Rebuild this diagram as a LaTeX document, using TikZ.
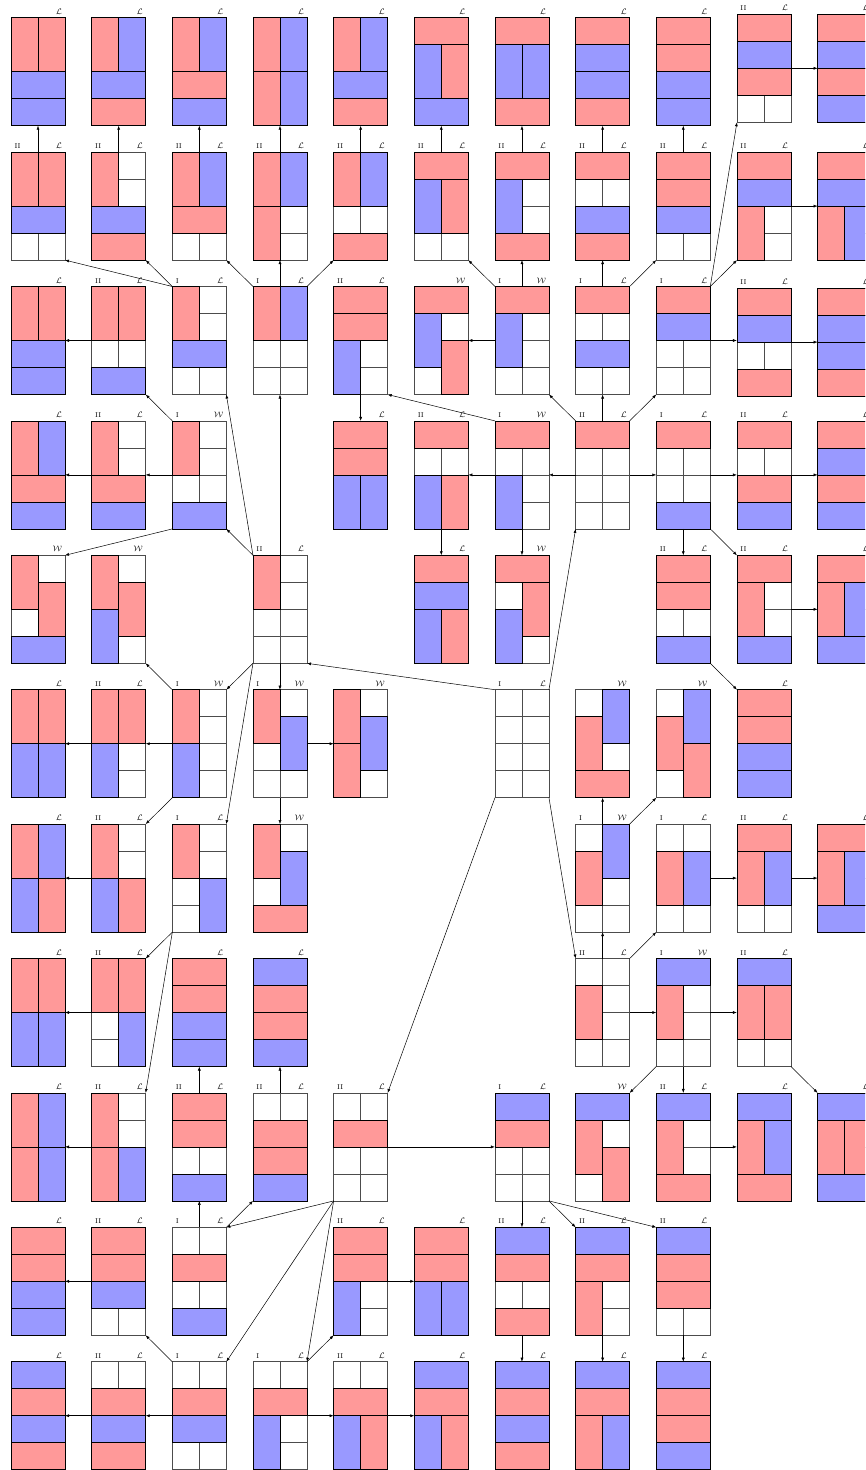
\documentclass[tikz,border=0pt]{standalone}
\usetikzlibrary{arrows.meta}
\colorlet{rd}{red!40}
\colorlet{bl}{blue!40}
\newcommand\calL{{\fontsize{8}{8}\selectfont$\mathcal{L}$}}
\newcommand\calW{{\fontsize{8}{8}\selectfont$\mathcal{W}$}}
\newcommand\hdom[2]{\filldraw[dom,fill=#2] (0,{27*#1}) rectangle (54,{27*#1+27});}
\newcommand\vdom[3]{\filldraw[dom,fill=#3] ({27*#1},{27*#2}) rectangle ({27*#1+27},{27*#2+54});}
\newcommand\bd[6]{%
  \node[board] (b#2-#1) at ({38+80.66*#1},{71.7+134.4*#2+#3}) {};
  \begin{scope}[shift={(b#2-#1.north west)}]
    \draw[cellgrid] (0,0) rectangle (54,108) (27,0) -- (27,108) (0,27) -- (54,27) (0,54) -- (54,54) (0,81) -- (54,81);
    #6
  \end{scope}
  \node[lab, anchor=south west] (b#2-#1-l) at ([xshift=3.5pt,yshift=3.5pt]b#2-#1.north west) {#4};
  \node[lab, anchor=south east] (b#2-#1-r) at ([xshift=-3pt,yshift=3.5pt]b#2-#1.north east) {#5};
}
\tikzset{
  board/.style={rectangle, minimum width=54pt, minimum height=108pt, inner sep=0pt, outer sep=0pt},
  cellgrid/.style={draw=black!70, line width=0.5pt, fill=white},
  dom/.style={draw=black, line width=0.7pt},
  lab/.style={inner sep=0pt, outer sep=0pt, font=\fontsize{7}{7}\selectfont},
  arr/.style={-{Latex[length=4pt,width=3pt]}, line width=0.5pt},
}
\begin{document}
\begin{tikzpicture}[x=1pt,y=-1pt]
\useasboundingbox (0,0) rectangle (865,1470);
\clip (0,0) rectangle (865,1470);
\fill[white] (0,0) rectangle (865,1470);
% row 0
\bd{0}{0}{0}{}{\calL}{\vdom{0}{0}{rd}\vdom{1}{0}{rd}\hdom{2}{bl}\hdom{3}{bl}}
\bd{1}{0}{0}{}{\calL}{\vdom{0}{0}{rd}\vdom{1}{0}{bl}\hdom{2}{bl}\hdom{3}{rd}}
\bd{2}{0}{0}{}{\calL}{\vdom{0}{0}{rd}\vdom{1}{0}{bl}\hdom{2}{rd}\hdom{3}{bl}}
\bd{3}{0}{0}{}{\calL}{\vdom{0}{0}{rd}\vdom{1}{0}{bl}\vdom{0}{2}{rd}\vdom{1}{2}{bl}}
\bd{4}{0}{0}{}{\calL}{\vdom{0}{0}{rd}\vdom{1}{0}{bl}\hdom{2}{bl}\hdom{3}{rd}}
\bd{5}{0}{0}{}{\calL}{\hdom{0}{rd}\vdom{0}{1}{bl}\vdom{1}{1}{rd}\hdom{3}{bl}}
\bd{6}{0}{0}{}{\calL}{\hdom{0}{rd}\vdom{0}{1}{bl}\vdom{1}{1}{bl}\hdom{3}{rd}}
\bd{7}{0}{0}{}{\calL}{\hdom{0}{rd}\hdom{1}{bl}\hdom{2}{bl}\hdom{3}{rd}}
\bd{8}{0}{0}{}{\calL}{\hdom{0}{rd}\hdom{1}{rd}\hdom{2}{bl}\hdom{3}{bl}}
\bd{9}{0}{-3.4}{II}{\calL}{\hdom{0}{rd}\hdom{1}{bl}\hdom{2}{rd}}
\bd{10}{0}{-3.4}{}{\calL}{\hdom{0}{rd}\hdom{1}{bl}\hdom{2}{rd}\hdom{3}{bl}}
% row 1
\bd{0}{1}{0}{II}{\calL}{\vdom{0}{0}{rd}\vdom{1}{0}{rd}\hdom{2}{bl}}
\bd{1}{1}{0}{II}{\calL}{\vdom{0}{0}{rd}\hdom{2}{bl}\hdom{3}{rd}}
\bd{2}{1}{0}{II}{\calL}{\vdom{0}{0}{rd}\vdom{1}{0}{bl}\hdom{2}{rd}}
\bd{3}{1}{0}{II}{\calL}{\vdom{0}{0}{rd}\vdom{1}{0}{bl}\vdom{0}{2}{rd}}
\bd{4}{1}{0}{II}{\calL}{\vdom{0}{0}{rd}\vdom{1}{0}{bl}\hdom{3}{rd}}
\bd{5}{1}{0}{II}{\calL}{\hdom{0}{rd}\vdom{0}{1}{bl}\vdom{1}{1}{rd}}
\bd{6}{1}{0}{II}{\calL}{\hdom{0}{rd}\vdom{0}{1}{bl}\hdom{3}{rd}}
\bd{7}{1}{0}{II}{\calL}{\hdom{0}{rd}\hdom{2}{bl}\hdom{3}{rd}}
\bd{8}{1}{0}{II}{\calL}{\hdom{0}{rd}\hdom{1}{rd}\hdom{2}{bl}}
\bd{9}{1}{0}{II}{\calL}{\hdom{0}{rd}\hdom{1}{bl}\vdom{0}{2}{rd}}
\bd{10}{1}{0}{}{\calL}{\hdom{0}{rd}\hdom{1}{bl}\vdom{0}{2}{rd}\vdom{1}{2}{bl}}
% row 2
\bd{0}{2}{0}{}{\calL}{\vdom{0}{0}{rd}\vdom{1}{0}{rd}\hdom{2}{bl}\hdom{3}{bl}}
\bd{1}{2}{0}{II}{\calL}{\vdom{0}{0}{rd}\vdom{1}{0}{rd}\hdom{3}{bl}}
\bd{2}{2}{0}{I}{\calL}{\vdom{0}{0}{rd}\hdom{2}{bl}}
\bd{3}{2}{0}{I}{\calL}{\vdom{0}{0}{rd}\vdom{1}{0}{bl}}
\bd{4}{2}{0}{II}{\calL}{\hdom{0}{rd}\hdom{1}{rd}\vdom{0}{2}{bl}}
\bd{5}{2}{0}{}{\calW}{\hdom{0}{rd}\vdom{0}{1}{bl}\vdom{1}{2}{rd}}
\bd{6}{2}{0}{I}{\calW}{\hdom{0}{rd}\vdom{0}{1}{bl}}
\bd{7}{2}{0}{I}{\calL}{\hdom{0}{rd}\hdom{2}{bl}}
\bd{8}{2}{0}{I}{\calL}{\hdom{0}{rd}\hdom{1}{bl}}
\bd{9}{2}{1.6}{II}{\calL}{\hdom{0}{rd}\hdom{1}{bl}\hdom{3}{rd}}
\bd{10}{2}{1.6}{}{\calL}{\hdom{0}{rd}\hdom{1}{bl}\hdom{2}{bl}\hdom{3}{rd}}
% row 3
\bd{0}{3}{0}{}{\calL}{\vdom{0}{0}{rd}\vdom{1}{0}{bl}\hdom{2}{rd}\hdom{3}{bl}}
\bd{1}{3}{0}{II}{\calL}{\vdom{0}{0}{rd}\hdom{2}{rd}\hdom{3}{bl}}
\bd{2}{3}{0}{I}{\calW}{\vdom{0}{0}{rd}\hdom{3}{bl}}
\bd{4}{3}{0}{}{\calL}{\hdom{0}{rd}\hdom{1}{rd}\vdom{0}{2}{bl}\vdom{1}{2}{bl}}
\bd{5}{3}{0}{II}{\calL}{\hdom{0}{rd}\vdom{0}{2}{bl}\vdom{1}{2}{rd}}
\bd{6}{3}{0}{I}{\calW}{\hdom{0}{rd}\vdom{0}{2}{bl}}
\bd{7}{3}{0}{II}{\calL}{\hdom{0}{rd}}
\bd{8}{3}{0}{I}{\calL}{\hdom{0}{rd}\hdom{3}{bl}}
\bd{9}{3}{0}{II}{\calL}{\hdom{0}{rd}\hdom{2}{rd}\hdom{3}{bl}}
\bd{10}{3}{0}{}{\calL}{\hdom{0}{rd}\hdom{1}{bl}\hdom{2}{rd}\hdom{3}{bl}}
% row 4
\bd{0}{4}{0}{}{\calW}{\vdom{0}{0}{rd}\vdom{1}{1}{rd}\hdom{3}{bl}}
\bd{1}{4}{0}{}{\calW}{\vdom{0}{0}{rd}\vdom{1}{1}{rd}\vdom{0}{2}{bl}}
\bd{3}{4}{0}{II}{\calL}{\vdom{0}{0}{rd}}
\bd{5}{4}{0}{}{\calL}{\hdom{0}{rd}\hdom{1}{bl}\vdom{0}{2}{bl}\vdom{1}{2}{rd}}
\bd{6}{4}{0}{}{\calW}{\hdom{0}{rd}\vdom{1}{1}{rd}\vdom{0}{2}{bl}}
\bd{8}{4}{0}{II}{\calL}{\hdom{0}{rd}\hdom{1}{rd}\hdom{3}{bl}}
\bd{9}{4}{0}{II}{\calL}{\hdom{0}{rd}\vdom{0}{1}{rd}\hdom{3}{bl}}
\bd{10}{4}{0}{}{\calL}{\hdom{0}{rd}\vdom{0}{1}{rd}\vdom{1}{1}{bl}\hdom{3}{bl}}
% row 5
\bd{0}{5}{0}{}{\calL}{\vdom{0}{0}{rd}\vdom{1}{0}{rd}\vdom{0}{2}{bl}\vdom{1}{2}{bl}}
\bd{1}{5}{0}{II}{\calL}{\vdom{0}{0}{rd}\vdom{1}{0}{rd}\vdom{0}{2}{bl}}
\bd{2}{5}{0}{I}{\calW}{\vdom{0}{0}{rd}\vdom{0}{2}{bl}}
\bd{3}{5}{0}{I}{\calW}{\vdom{0}{0}{rd}\vdom{1}{1}{bl}}
\bd{4}{5}{0}{}{\calW}{\vdom{0}{0}{rd}\vdom{0}{2}{rd}\vdom{1}{1}{bl}}
\bd{6}{5}{0}{I}{\calL}{}
\bd{7}{5}{0}{}{\calW}{\vdom{1}{0}{bl}\vdom{0}{1}{rd}\hdom{3}{rd}}
\bd{8}{5}{0}{}{\calW}{\vdom{1}{0}{bl}\vdom{0}{1}{rd}\vdom{1}{2}{rd}}
\bd{9}{5}{0}{}{\calL}{\hdom{0}{rd}\hdom{1}{rd}\hdom{2}{bl}\hdom{3}{bl}}
% row 6
\bd{0}{6}{0}{}{\calL}{\vdom{0}{0}{rd}\vdom{1}{0}{bl}\vdom{0}{2}{bl}\vdom{1}{2}{rd}}
\bd{1}{6}{0}{II}{\calL}{\vdom{0}{0}{rd}\vdom{0}{2}{bl}\vdom{1}{2}{rd}}
\bd{2}{6}{0}{I}{\calL}{\vdom{0}{0}{rd}\vdom{1}{2}{bl}}
\bd{3}{6}{0}{}{\calW}{\vdom{0}{0}{rd}\vdom{1}{1}{bl}\hdom{3}{rd}}
\bd{7}{6}{0}{I}{\calW}{\vdom{1}{0}{bl}\vdom{0}{1}{rd}}
\bd{8}{6}{0}{I}{\calL}{\vdom{0}{1}{rd}\vdom{1}{1}{bl}}
\bd{9}{6}{0}{II}{\calL}{\hdom{0}{rd}\vdom{0}{1}{rd}\vdom{1}{1}{bl}}
\bd{10}{6}{0}{}{\calL}{\hdom{0}{rd}\vdom{0}{1}{rd}\vdom{1}{1}{bl}\hdom{3}{bl}}
% row 7
\bd{0}{7}{0}{}{\calL}{\vdom{0}{0}{rd}\vdom{1}{0}{rd}\vdom{0}{2}{bl}\vdom{1}{2}{bl}}
\bd{1}{7}{0}{II}{\calL}{\vdom{0}{0}{rd}\vdom{1}{0}{rd}\vdom{1}{2}{bl}}
\bd{2}{7}{0}{}{\calL}{\hdom{0}{rd}\hdom{1}{rd}\hdom{2}{bl}\hdom{3}{bl}}
\bd{3}{7}{0}{}{\calL}{\hdom{0}{bl}\hdom{1}{rd}\hdom{2}{rd}\hdom{3}{bl}}
\bd{7}{7}{0}{II}{\calL}{\vdom{0}{1}{rd}}
\bd{8}{7}{0}{I}{\calW}{\hdom{0}{bl}\vdom{0}{1}{rd}}
\bd{9}{7}{0}{II}{\calL}{\hdom{0}{bl}\vdom{0}{1}{rd}\vdom{1}{1}{rd}}
% row 8
\bd{0}{8}{0}{}{\calL}{\vdom{0}{0}{rd}\vdom{1}{0}{bl}\vdom{0}{2}{rd}\vdom{1}{2}{bl}}
\bd{1}{8}{0}{II}{\calL}{\vdom{0}{0}{rd}\vdom{0}{2}{rd}\vdom{1}{2}{bl}}
\bd{2}{8}{0}{II}{\calL}{\hdom{0}{rd}\hdom{1}{rd}\hdom{3}{bl}}
\bd{3}{8}{0}{II}{\calL}{\hdom{1}{rd}\hdom{2}{rd}\hdom{3}{bl}}
\bd{4}{8}{0}{II}{\calL}{\hdom{1}{rd}}
\bd{6}{8}{0}{I}{\calL}{\hdom{0}{bl}\hdom{1}{rd}}
\bd{7}{8}{0}{}{\calW}{\hdom{0}{bl}\vdom{0}{1}{rd}\vdom{1}{2}{rd}}
\bd{8}{8}{0}{II}{\calL}{\hdom{0}{bl}\vdom{0}{1}{rd}\hdom{3}{rd}}
\bd{9}{8}{0}{}{\calL}{\hdom{0}{bl}\vdom{0}{1}{rd}\vdom{1}{1}{bl}\hdom{3}{rd}}
\bd{10}{8}{0}{}{\calL}{\hdom{0}{bl}\vdom{0}{1}{rd}\vdom{1}{1}{rd}\hdom{3}{bl}}
% row 9
\bd{0}{9}{0}{}{\calL}{\hdom{0}{rd}\hdom{1}{rd}\hdom{2}{bl}\hdom{3}{bl}}
\bd{1}{9}{0}{II}{\calL}{\hdom{0}{rd}\hdom{1}{rd}\hdom{2}{bl}}
\bd{2}{9}{0}{I}{\calL}{\hdom{1}{rd}\hdom{3}{bl}}
\bd{4}{9}{0}{II}{\calL}{\hdom{0}{rd}\hdom{1}{rd}\vdom{0}{2}{bl}}
\bd{5}{9}{0}{}{\calL}{\hdom{0}{rd}\hdom{1}{rd}\vdom{0}{2}{bl}\vdom{1}{2}{bl}}
\bd{6}{9}{0}{II}{\calL}{\hdom{0}{bl}\hdom{1}{rd}\hdom{3}{rd}}
\bd{7}{9}{0}{II}{\calL}{\hdom{0}{bl}\hdom{1}{rd}\vdom{0}{2}{rd}}
\bd{8}{9}{0}{II}{\calL}{\hdom{0}{bl}\hdom{1}{rd}\hdom{2}{rd}}
% row 10
\bd{0}{10}{0}{}{\calL}{\hdom{0}{bl}\hdom{1}{rd}\hdom{2}{bl}\hdom{3}{rd}}
\bd{1}{10}{0}{II}{\calL}{\hdom{1}{rd}\hdom{2}{bl}\hdom{3}{rd}}
\bd{2}{10}{0}{I}{\calL}{\hdom{1}{rd}\hdom{2}{bl}}
\bd{3}{10}{0}{I}{\calL}{\hdom{1}{rd}\vdom{0}{2}{bl}}
\bd{4}{10}{0}{II}{\calL}{\hdom{1}{rd}\vdom{0}{2}{bl}\vdom{1}{2}{rd}}
\bd{5}{10}{0}{}{\calL}{\hdom{0}{bl}\hdom{1}{rd}\vdom{0}{2}{bl}\vdom{1}{2}{rd}}
\bd{6}{10}{0}{}{\calL}{\hdom{0}{bl}\hdom{1}{rd}\hdom{2}{bl}\hdom{3}{rd}}
\bd{7}{10}{0}{}{\calL}{\hdom{0}{bl}\hdom{1}{rd}\vdom{0}{2}{rd}\vdom{1}{2}{bl}}
\bd{8}{10}{0}{}{\calL}{\hdom{0}{bl}\hdom{1}{rd}\hdom{2}{rd}\hdom{3}{bl}}
% vertical arrows row1 -> row0
\foreach \c in {0,...,8} {\draw[arr] (b1-\c.north) -- (b0-\c.south);}
% horizontal arrows
\draw[arr] (b0-9.east) -- (b0-10.west);
\draw[arr] (b1-9.east) -- (b1-10.west);
\draw[arr] (b2-1.west) -- (b2-0.east);
\draw[arr] (b2-6.west) -- (b2-5.east);
\draw[arr] (b2-8.east) -- (b2-8.east -| b2-9.west);
\draw[arr] (b2-9.east) -- (b2-10.west);
\draw[arr] (b3-2.west) -- (b3-1.east);
\draw[arr] (b3-1.west) -- (b3-0.east);
\draw[arr] (b3-7.west) -- (b3-6.east);
\draw[arr] (b3-6.west) -- (b3-5.east);
\draw[arr] (b3-7.east) -- (b3-8.west);
\draw[arr] (b3-8.east) -- (b3-9.west);
\draw[arr] (b3-9.east) -- (b3-10.west);
\draw[arr] (b4-9.east) -- (b4-10.west);
\draw[arr] (b5-2.west) -- (b5-1.east);
\draw[arr] (b5-1.west) -- (b5-0.east);
\draw[arr] (b5-3.east) -- (b5-4.west);
\draw[arr] (b6-1.west) -- (b6-0.east);
\draw[arr] (b6-8.east) -- (b6-9.west);
\draw[arr] (b6-9.east) -- (b6-10.west);
\draw[arr] (b7-1.west) -- (b7-0.east);
\draw[arr] (b7-7.east) -- (b7-8.west);
\draw[arr] (b7-8.east) -- (b7-9.west);
\draw[arr] (b8-1.west) -- (b8-0.east);
\draw[arr] (b8-4.east) -- (b8-6.west);
\draw[arr] (b8-8.east) -- (b8-9.west);
\draw[arr] (b9-1.west) -- (b9-0.east);
\draw[arr] (b9-4.east) -- (b9-5.west);
\draw[arr] (b10-2.west) -- (b10-1.east);
\draw[arr] (b10-1.west) -- (b10-0.east);
\draw[arr] (b10-3.east) -- (b10-4.west);
\draw[arr] (b10-4.east) -- (b10-5.west);
% vertical arrows
\draw[arr] (b2-3.north) -- (b1-3.south);
\draw[arr] (b2-6.north) -- (b1-6.south);
\draw[arr] (b2-7.north) -- (b1-7.south);
\draw[arr] (b2-4.south) -- (b3-4.north);
\draw[arr] (b3-5.south) -- (b4-5.north);
\draw[arr] (b3-6.south) -- (b4-6.north);
\draw[arr] (b3-7.north) -- (b2-7.south);
\draw[arr] (b3-8.south) -- (b4-8.north);
\draw[arr] (b4-3.north) -- (b2-3.south);
\draw[arr] (b4-3.south) -- (b5-3.north);
\draw[arr] (b5-3.south) -- (b6-3.north);
\draw[arr] (b6-7.north) -- (b5-7.south);
\draw[arr] (b7-7.north) -- (b6-7.south);
\draw[arr] (b8-2.north) -- (b7-2.south);
\draw[arr] (b8-3.north) -- (b7-3.south);
\draw[arr] (b9-2.north) -- (b8-2.south);
\draw[arr] (b7-8.south) -- (b8-8.north);
\draw[arr] (b8-6.south) -- (b9-6.north);
\draw[arr] (b9-6.south) -- (b10-6.north);
\draw[arr] (b9-7.south) -- (b10-7.north);
\draw[arr] (b9-8.south) -- (b10-8.north);
% diagonal arrows
\draw[arr] (b2-2.north west) -- (b1-0.south east);
\draw[arr] (b2-2.north west) -- (b1-1.south east);
\draw[arr] (b2-3.north west) -- (b1-2.south east);
\draw[arr] (b2-3.north east) -- (b1-4.south west);
\draw[arr] (b2-6.north west) -- (b1-5.south east);
\draw[arr] (b2-7.north east) -- (b1-8.south west);
\draw[arr] (b2-8.north east) -- (b1-9.south west);
\draw[arr] (b2-8.north east) -- (b0-9.south west);
\draw[arr] (b3-2.north west) -- (b2-1.south east);
\draw[arr] (b3-6.north west) -- (b2-4.south east);
\draw[arr] (b3-7.north west) -- (b2-6.south east);
\draw[arr] (b3-7.north east) -- (b2-8.south west);
\draw[arr] (b3-2.south west) -- (b4-0.north east);
\draw[arr] (b3-8.south east) -- (b4-9.north west);
\draw[arr] (b4-3.north west) -- (b3-2.south east);
\draw[arr] (b4-3.north west) -- (b2-2.south east);
\draw[arr] (b4-3.south west) -- (b5-2.north east);
\draw[arr] (b4-3.south west) -- (b6-2.north east);
\draw[arr] (b4-8.south east) -- (b5-9.north west);
\draw[arr] (b5-2.north west) -- (b4-1.south east);
\draw[arr] (b5-2.south west) -- (b6-1.north east);
\draw[arr] (b5-6.north west) -- (b4-3.south east);
\draw[arr] (b5-6.north east) -- (b3-7.south west);
\draw[arr] (b5-6.south west) -- (b8-4.north east);
\draw[arr] (b5-6.south east) -- (b7-7.north west);
\draw[arr] (b6-2.south west) -- (b7-1.north east);
\draw[arr] (b6-2.south west) -- (b8-1.north east);
\draw[arr] (b6-7.north east) -- (b5-8.south west);
\draw[arr] (b7-7.north east) -- (b6-8.south west);
\draw[arr] (b7-8.south west) -- (b8-7.north east);
\draw[arr] (b7-9.south east) -- (b8-10.north west);
\draw[arr] (b8-4.south west) -- (b9-2.north east);
\draw[arr] (b8-4.south west) -- (b10-2.north east);
\draw[arr] (b8-4.south west) -- (b10-3.north east);
\draw[arr] (b9-2.north east) -- (b8-3.south west);
\draw[arr] (b10-2.north west) -- (b9-1.south east);
\draw[arr] (b10-3.north east) -- (b9-4.south west);
\draw[arr] (b8-6.south east) -- (b9-7.north west);
\draw[arr] (b8-6.south east) -- (b9-8.north west);
\end{tikzpicture}
\end{document}
